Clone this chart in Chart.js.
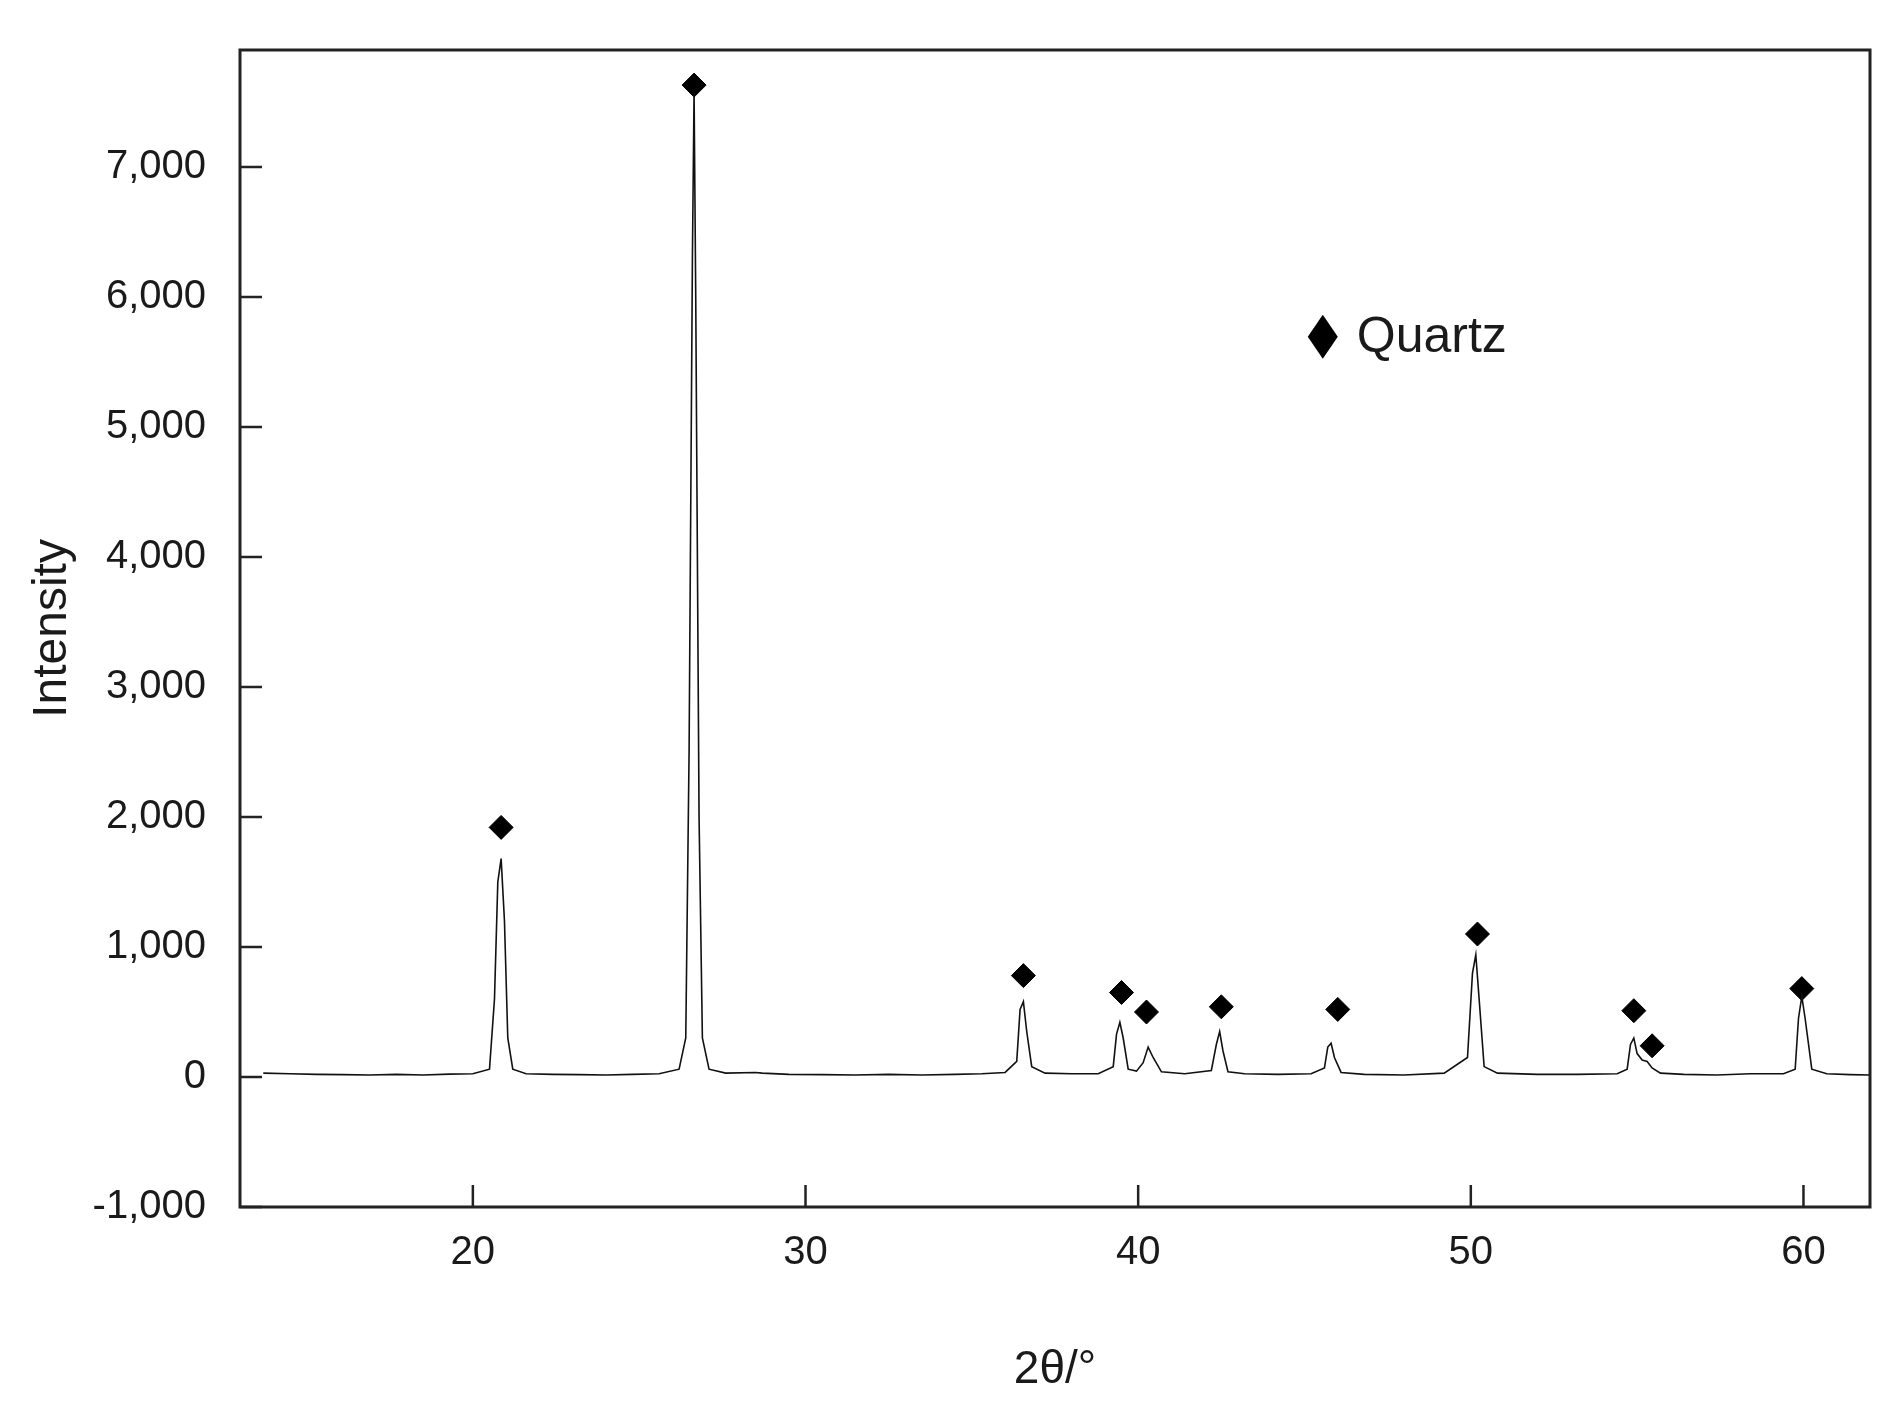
<!DOCTYPE html>
<html><head><meta charset="utf-8">
<script src="https://cdn.jsdelivr.net/npm/chart.js@4.4.0/dist/chart.umd.min.js"></script>
<style>html,body{margin:0;padding:0;background:#fff}#wrap{width:1897px;height:1402px}</style>
</head><body><div id="wrap"><canvas id="c"></canvas></div>
<script>
// XRD profile (2θ, intensity)
const twoTheta = [13.7,14.5,15.3,16.1,16.9,17.7,18.5,19.3,20.0,20.5,20.65,20.75,20.85,20.95,21.05,21.2,21.6,22.4,23.2,24.0,24.8,25.6,26.2,26.4,26.5,26.6,26.65,26.7,26.8,26.9,27.1,27.6,28.5,28.7,29.5,30.5,31.5,32.5,33.5,34.5,35.3,36.0,36.35,36.45,36.55,36.65,36.8,37.2,38.0,38.8,39.25,39.35,39.45,39.55,39.7,39.95,40.15,40.3,40.45,40.7,41.4,42.2,42.35,42.45,42.55,42.7,43.2,44.2,45.2,45.6,45.7,45.8,45.9,46.1,46.8,48.0,49.2,49.9,50.05,50.15,50.25,50.4,50.8,52.0,53.2,54.4,54.7,54.8,54.9,55.0,55.15,55.3,55.45,55.7,56.4,57.4,58.4,59.4,59.75,59.85,59.95,60.05,60.25,60.7,61.4,62.0];
const intensity = [30,25,20,18,15,20,15,22,25,60,600,1500,1680,1200,300,60,25,20,18,15,20,25,60,300,2500,6300,7580,6000,2000,300,60,30,35,30,20,18,15,20,15,20,25,35,120,520,580,350,80,30,25,25,80,330,420,300,60,45,110,230,150,40,25,50,250,350,200,40,25,20,25,70,230,260,150,35,20,15,30,150,800,940,600,80,30,20,20,25,60,250,300,180,130,120,70,30,20,15,25,25,60,450,620,450,60,25,18,15];
// Quartz marker positions
const markerX = [20.85,26.65,36.55,39.5,40.25,42.5,46.0,50.2,54.9,55.45,59.95];
const markerY = [1920,7630,780,650,500,540,520,1100,510,240,680];
const xTicks = [20,30,40,50,60];
const yTicks = [-1000,0,1000,2000,3000,4000,5000,6000,7000];

const line = twoTheta.map((x,i)=>({x, y: intensity[i]}));
const marks = markerX.map((x,i)=>({x, y: markerY[i]}));
const FONT = "'Liberation Sans', Arial, sans-serif";

const frame = {
  id:'frame',
  afterDraw(ch){
    const {ctx, chartArea:a, scales:{x,y}} = ch;
    ctx.save();
    ctx.strokeStyle='#222'; ctx.lineWidth=3;
    ctx.strokeRect(a.left,a.top,a.right-a.left,a.bottom-a.top);
    ctx.lineWidth=2.5;
    xTicks.forEach(v=>{const p=x.getPixelForValue(v);ctx.beginPath();ctx.moveTo(p,a.bottom);ctx.lineTo(p,a.bottom-22);ctx.stroke();});
    yTicks.forEach(v=>{const p=y.getPixelForValue(v);ctx.beginPath();ctx.moveTo(a.left,p);ctx.lineTo(a.left+22,p);ctx.stroke();});
    // legend
    const lx=x.getPixelForValue(45.55), ly=y.getPixelForValue(5695);
    ctx.fillStyle='#000';
    ctx.beginPath();ctx.moveTo(lx,ly-22);ctx.lineTo(lx+15,ly);ctx.lineTo(lx,ly+22);ctx.lineTo(lx-15,ly);ctx.closePath();ctx.fill();
    ctx.font='50px '+FONT; ctx.textBaseline='middle'; ctx.textAlign='left';
    ctx.fillStyle='#1a1a1a';
    ctx.fillText('Quartz', lx+34, ly+2);
    ctx.restore();
  }
};

new Chart(document.getElementById('c'),{
  type:'scatter',
  data:{datasets:[
    {data:line, showLine:true, borderColor:'#111', borderWidth:1.6, pointRadius:0, tension:0},
    {data:marks, pointStyle:'rectRot', pointRadius:12, backgroundColor:'#000', borderColor:'#000', showLine:false}
  ]},
  options:{
    responsive:true, maintainAspectRatio:false, animation:false,
    layout:{padding:{top:21,right:27,left:20,bottom:0}},
    plugins:{legend:{display:false},tooltip:{enabled:false}},
    scales:{
      x:{type:'linear',min:13,max:62,
        afterBuildTicks(s){s.ticks=xTicks.map(v=>({value:v}));},
        grid:{display:false}, border:{display:false},
        ticks:{color:'#1a1a1a',font:{size:40,family:FONT},padding:14},
        title:{display:true,text:'2θ/°',color:'#1a1a1a',font:{size:46,family:FONT},padding:{top:30}},
        afterFit(s){s.height=195;}
      },
      y:{type:'linear',min:-1000,max:7900,
        afterBuildTicks(s){s.ticks=yTicks.map(v=>({value:v}));},
        grid:{display:false}, border:{display:false},
        ticks:{color:'#1a1a1a',font:{size:40,family:FONT},padding:26},
        title:{display:true,text:'Intensity',color:'#1a1a1a',font:{size:48,family:FONT},padding:{bottom:10}},
        afterFit(s){s.width=220;}
      }
    }
  },
  plugins:[frame]
});
</script></body></html>
